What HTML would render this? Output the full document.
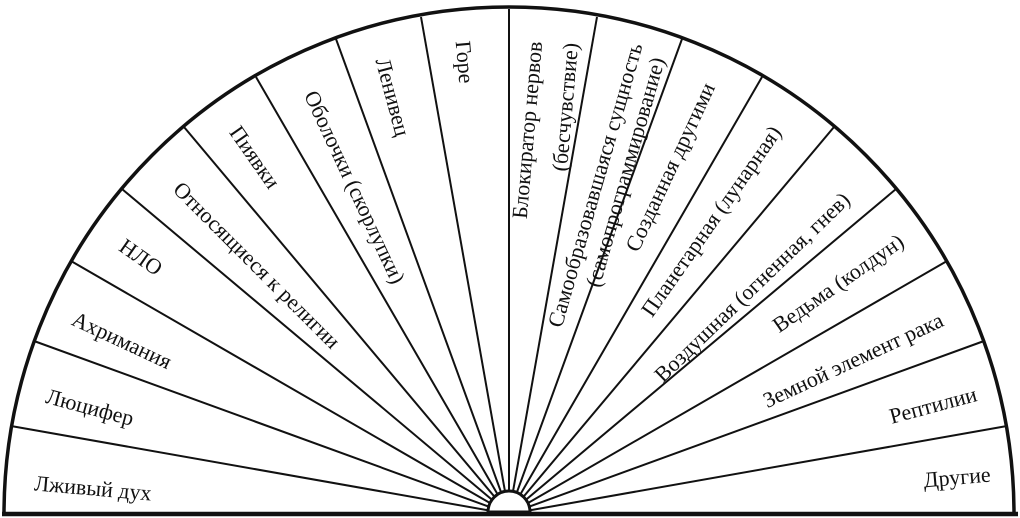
<!DOCTYPE html>
<html><head><meta charset="utf-8"><style>
html,body{margin:0;padding:0;background:#fff;}
svg{display:block;}
text{font-family:"Liberation Serif","DejaVu Serif",serif;font-size:22px;fill:#111;}
</style></head><body>
<svg width="1020" height="518" viewBox="0 0 1020 518" xmlns="http://www.w3.org/2000/svg">
<rect width="1020" height="518" fill="#fff"/>
<g stroke="#111" stroke-width="2" fill="none">
<line x1="509" y1="514" x2="11" y2="426"/>
<line x1="509" y1="514" x2="34" y2="341"/>
<line x1="509" y1="514" x2="71" y2="261"/>
<line x1="509" y1="514" x2="122" y2="189"/>
<line x1="509" y1="514" x2="184" y2="127"/>
<line x1="509" y1="514" x2="256" y2="77"/>
<line x1="509" y1="514" x2="336" y2="39"/>
<line x1="509" y1="514" x2="421" y2="17"/>
<line x1="509" y1="514" x2="509" y2="9"/>
<line x1="509" y1="514" x2="597" y2="17"/>
<line x1="509" y1="514" x2="682" y2="39"/>
<line x1="509" y1="514" x2="762" y2="77"/>
<line x1="509" y1="514" x2="834" y2="127"/>
<line x1="509" y1="514" x2="896" y2="189"/>
<line x1="509" y1="514" x2="947" y2="261"/>
<line x1="509" y1="514" x2="984" y2="341"/>
<line x1="509" y1="514" x2="1007" y2="426"/>
</g>
<path d="M4 514 A505 507 0 0 1 1014 514" stroke="#111" stroke-width="3.5" fill="none"/>
<line x1="2" y1="514" x2="1018" y2="514" stroke="#111" stroke-width="4.5"/>
<path d="M488 512 A21 21 0 0 1 530 512 Z" fill="#fff" stroke="#111" stroke-width="3"/>
<g text-anchor="middle" dominant-baseline="central">
<text transform="translate(93,488) rotate(5)">Лживый дух</text>
<text transform="translate(90,407) rotate(15)">Люцифер</text>
<text transform="translate(122,340) rotate(25)">Ахримания</text>
<text transform="translate(141,257) rotate(35)">НЛО</text>
<text transform="translate(257,265) rotate(45)">Относящиеся к религии</text>
<text transform="translate(255,157) rotate(55)">Пиявки</text>
<text transform="translate(355,187) rotate(65)">Оболочки (скорлупки)</text>
<text transform="translate(393,97) rotate(75)">Ленивец</text>
<text transform="translate(465,62) rotate(85)">Горе</text>
<text transform="translate(527,130) rotate(-85)">Блокиратор нервов</text>
<text transform="translate(565,107) rotate(-85)">(бесчувствие)</text>
<text transform="translate(595,185) rotate(-74)">Самообразовавшаяся сущность</text>
<text transform="translate(625,172) rotate(-74)">(самопрограммирование)</text>
<text transform="translate(670,167) rotate(-65)">Созданная другими</text>
<text transform="translate(711,221) rotate(-55)">Планетарная (лунарная)</text>
<text transform="translate(752,287) rotate(-44)">Воздушная (огненная, гнев)</text>
<text transform="translate(838,283) rotate(-35)">Ведьма (колдун)</text>
<text transform="translate(853,360) rotate(-25)">Земной элемент рака</text>
<text transform="translate(933,405) rotate(-15)">Рептилии</text>
<text transform="translate(957,477) rotate(-5)">Другие</text>
</g>
</svg>
</body></html>
